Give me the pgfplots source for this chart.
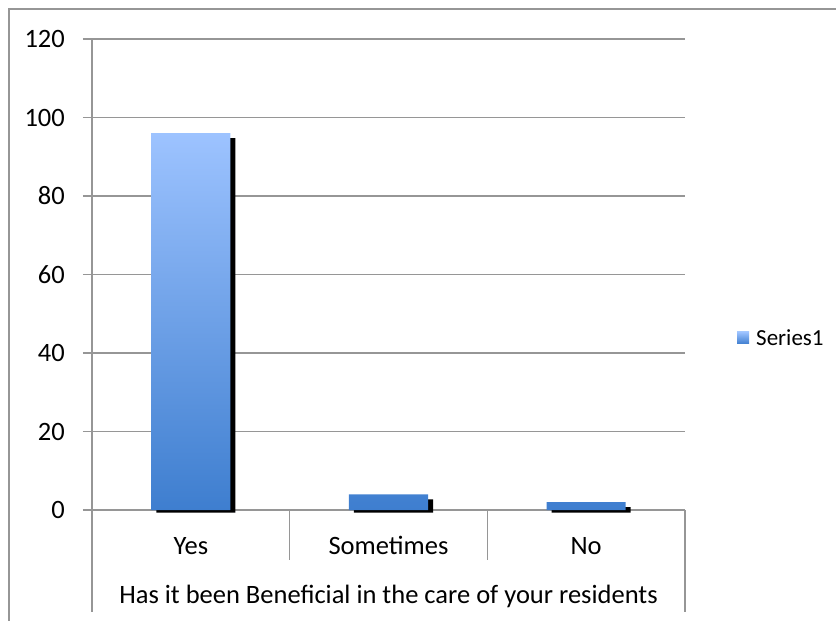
\documentclass[border=0pt]{standalone}
\usepackage{pgfplots}
\pgfplotsset{compat=1.18}
\usepackage{fontspec}
\setmainfont{Carlito}
\definecolor{bartop}{RGB}{157,195,255}
\definecolor{barbot}{RGB}{62,126,207}
\definecolor{gridc}{RGB}{150,150,150}
\begin{document}
\begin{tikzpicture}[font=\fontsize{26.5}{31}\selectfont]
\useasboundingbox (0,0) rectangle (836pt,-621pt);
\draw[gridc, line width=1.3pt] (9pt,-625pt) -- (9pt,-9pt) -- (840pt,-9pt);
\begin{axis}[
  at={(92pt,-510pt)}, anchor=south west,
  scale only axis, width=593pt, height=471pt,
  xmin=-0.5, xmax=2.5, ymin=0, ymax=120,
  ytick={0,20,...,120},
  xtick={0,1,2}, xticklabels={Yes,Sometimes,No},
  axis x line*=bottom, axis y line*=left,
  axis line style={gridc, line width=1.3pt},
  ymajorgrids, major grid style={gridc, line width=1.3pt},
  tick align=outside, major tick length=9pt,
  ytick style={gridc, line width=1.3pt},
  xtick style={draw=none},
  /pgf/number format/assume math mode=true,
  yticklabel style={inner sep=0pt, xshift=-18pt},
  xticklabel style={inner sep=0pt, anchor=base, yshift=-35pt},
  xlabel={Has it been Beneficial in the care of your residents},
  xlabel style={at={(axis description cs:0.5,0)}, anchor=base, inner sep=0pt, yshift=-93pt},
  clip=false,
  legend style={draw=none, fill=none, at={(axis description cs:1.0877,0.3652)}, anchor=west, inner sep=0pt,
    nodes={inner sep=0pt}, column sep=0pt, font=\fontsize{23}{27}\selectfont},
  legend cell align=left,
  legend image code/.code={\fill[top color=bartop, bottom color=barbot] (0pt,-6pt) rectangle (12pt,6pt);},
]
\addplot[ybar, bar width=79pt, bar shift=5pt, fill=black, draw=none, yshift=-2.5pt, forget plot]
  coordinates {(0,95.36) (1,3.36) (2,1.36)};
\addplot[ybar, bar width=79pt, bar shift=0pt, draw=none, top color=bartop, bottom color=barbot]
  coordinates {(0,96) (1,4) (2,2)};
\addlegendentry{\hspace{7pt}Series1}
\draw[gridc, line width=1.3pt] (axis cs:0.5,0) -- ([yshift=-50pt]axis cs:0.5,0);
\draw[gridc, line width=1.3pt] (axis cs:1.5,0) -- ([yshift=-50pt]axis cs:1.5,0);
\draw[gridc, line width=1.3pt] (axis cs:-0.5,0) -- ([yshift=-102pt]axis cs:-0.5,0);
\draw[gridc, line width=1.3pt] (axis cs:2.5,0) -- ([yshift=-102pt]axis cs:2.5,0);
\end{axis}
\end{tikzpicture}
\end{document}
